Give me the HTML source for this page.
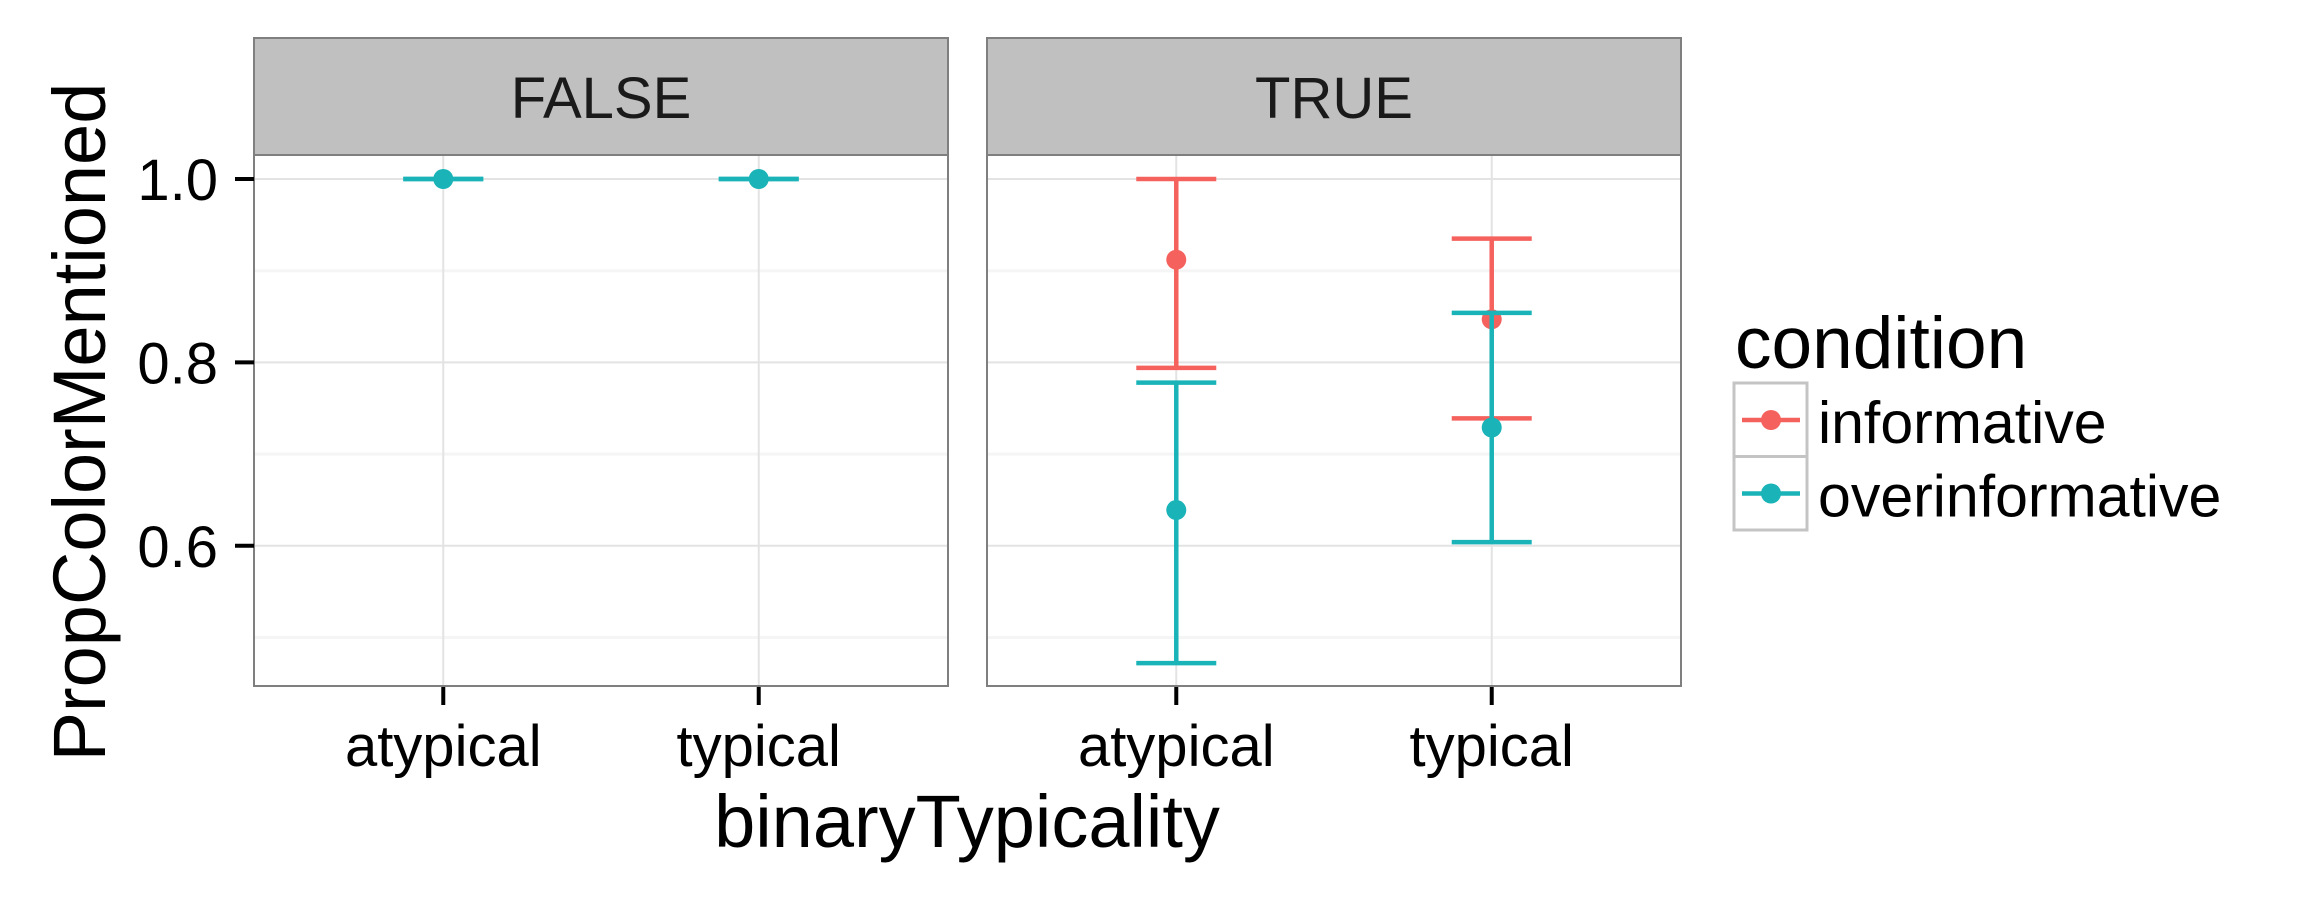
<!DOCTYPE html>
<html><head><meta charset="utf-8"><style>
html,body{margin:0;padding:0;background:#fff;}
svg{display:block;font-family:"Liberation Sans",sans-serif;}
</style></head><body>
<svg id="chart" width="2316" height="900" viewBox="0 0 2316 900" xmlns="http://www.w3.org/2000/svg"></svg>
<script>
const panels = ["FALSE", "TRUE"];
const categories = ["atypical", "typical"];
const conditions = ["informative", "overinformative"];
const yTicks = [0.6, 0.8, 1.0];
const yTickLabels = ["0.6", "0.8", "1.0"];
const yMinor = [0.5, 0.7, 0.9];
const falseInfMean = [null, null];
const falseInfLow = [null, null];
const falseInfHigh = [null, null];
const falseOverMean = [1.0, 1.0];
const falseOverLow = [1.0, 1.0];
const falseOverHigh = [1.0, 1.0];
const trueInfMean = [0.912, 0.847];
const trueInfLow = [0.794, 0.739];
const trueInfHigh = [1.0, 0.935];
const trueOverMean = [0.639, 0.729];
const trueOverLow = [0.472, 0.604];
const trueOverHigh = [0.778, 0.854];

const colors = {informative:"#F5625D", overinformative:"#1AB4B8"};
const NS = "http://www.w3.org/2000/svg";
const svg = document.getElementById("chart");
function mk(tag, attrs, parent){const e=document.createElementNS(NS,tag);for(const k in attrs)e.setAttribute(k,attrs[k]);(parent||svg).appendChild(e);return e;}

const panelX = [254, 987], panelW = 694, panelTop = 155, panelBottom = 686, stripTop = 38;
const y = v => 179 + (1 - v) * 917;
const x = (p, i) => panelX[p] + panelW * (0.6 + i) / 2.2;

const series = [
  [[falseInfMean, falseInfLow, falseInfHigh], [falseOverMean, falseOverLow, falseOverHigh]],
  [[trueInfMean, trueInfLow, trueInfHigh], [trueOverMean, trueOverLow, trueOverHigh]]
];

panels.forEach((pn, p) => {
  const g = mk("g", {});
  
  
  const strip = mk("rect", {x:panelX[p], y:stripTop, width:panelW, height:panelTop-stripTop, fill:"#c0c0c0", stroke:"#7f7f7f", "stroke-width":2}, g);
  
  
  const st = mk("text", {x:panelX[p]+panelW/2, y:118, "font-size":58, "text-anchor":"middle", fill:"#1a1a1a"}, g);
  st.textContent = pn;
  
  
  mk("rect", {x:panelX[p], y:panelTop, width:panelW, height:panelBottom-panelTop, fill:"#fff"}, g);
  yMinor.forEach(v => mk("line", {x1:panelX[p], x2:panelX[p]+panelW, y1:y(v), y2:y(v), stroke:"#f5f5f5", "stroke-width":3}, g));
  yTicks.forEach(v => mk("line", {x1:panelX[p], x2:panelX[p]+panelW, y1:y(v), y2:y(v), stroke:"#e3e3e3", "stroke-width":2}, g));
  categories.forEach((c, i) => {
    mk("line", {x1:x(p,i), x2:x(p,i), y1:panelTop, y2:panelBottom, stroke:"#e3e3e3", "stroke-width":2}, g);
    mk("line", {x1:x(p,i), x2:x(p,i), y1:panelBottom, y2:705, stroke:"#000", "stroke-width":4}, g);
    const t = mk("text", {x:x(p,i), y:766, "font-size":58, "text-anchor":"middle", fill:"#000"}, g);
    t.textContent = c;
    
    
  });
  conditions.forEach((cond, ci) => {
    const [m, lo, hi] = series[p][ci];
    categories.forEach((c, i) => {
      if (m[i] === null) return;
      const cx = x(p, i), col = colors[cond];
      const eb = mk("g", {stroke:col, "stroke-width":4.5, fill:"none"}, g);
      
      
      mk("line", {x1:cx, x2:cx, y1:y(hi[i]), y2:y(lo[i])}, eb);
      mk("line", {x1:cx-40, x2:cx+40, y1:y(hi[i]), y2:y(hi[i])}, eb);
      mk("line", {x1:cx-40, x2:cx+40, y1:y(lo[i]), y2:y(lo[i])}, eb);
      const pt = mk("circle", {cx:cx, cy:y(m[i]), r:10, fill:col}, g);
      
      
    });
  });
  mk("rect", {x:panelX[p], y:panelTop, width:panelW, height:panelBottom-panelTop, fill:"none", stroke:"#7f7f7f", "stroke-width":2}, g);
});

yTicks.forEach((v, i) => {
  mk("line", {x1:235, x2:254, y1:y(v), y2:y(v), stroke:"#000", "stroke-width":4});
  const t = mk("text", {x:218, y:y(v)+21, "font-size":58, "text-anchor":"end", fill:"#000"});
  t.textContent = yTickLabels[i];
  
  
});

const xt = mk("text", {x:967, y:847, "font-size":74, "text-anchor":"middle", fill:"#000"});
xt.textContent = "binaryTypicality";


const yt = mk("text", {x:0, y:0, "font-size":74, "text-anchor":"middle", fill:"#000", transform:"translate(105,422) rotate(-90)"});
yt.textContent = "PropColorMentioned";



const lg = mk("g", {});


const lt = mk("text", {x:1735, y:368, "font-size":73, fill:"#000"}, lg);
lt.textContent = "condition";


conditions.forEach((cond, i) => {
  const ry = 383 + i * 73.5;
  const e = mk("g", {}, lg);
  
  
  mk("rect", {x:1734, y:ry, width:73, height:73.5, fill:"#fff", stroke:"#c4c4c4", "stroke-width":3}, e);
  mk("line", {x1:1742, x2:1800, y1:ry+37, y2:ry+37, stroke:colors[cond], "stroke-width":4.5}, e);
  mk("circle", {cx:1771, cy:ry+37, r:10, fill:colors[cond]}, e);
  const t = mk("text", {x:1818, y:ry+60, "font-size":59, fill:"#000"}, e);
  t.textContent = cond;
});
</script>
</body></html>
